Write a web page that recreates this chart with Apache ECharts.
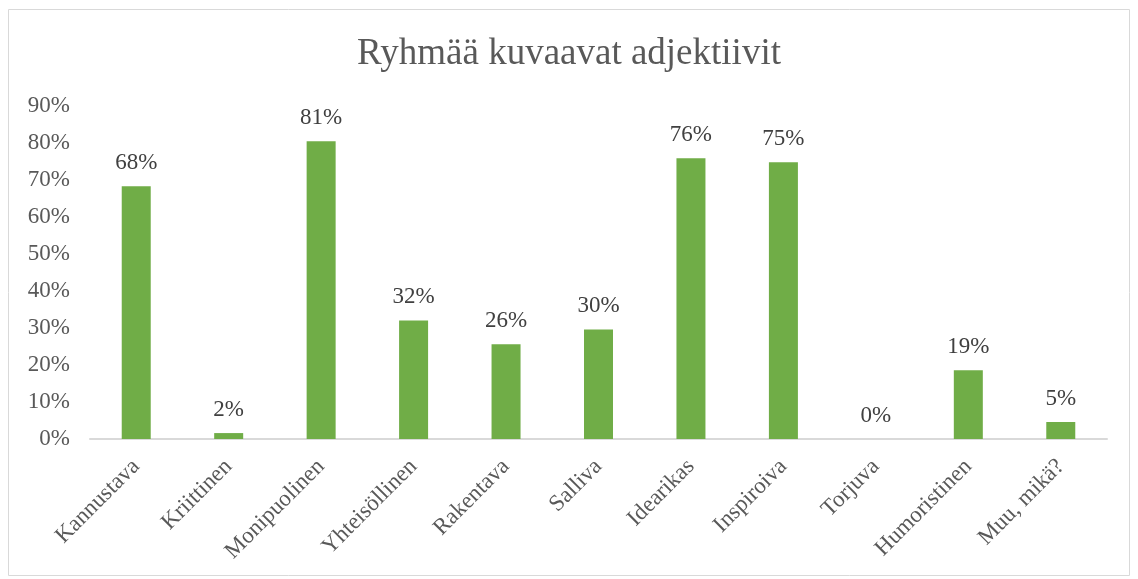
<!DOCTYPE html>
<html>
<head>
<meta charset="utf-8">
<script src="https://cdn.jsdelivr.net/npm/echarts@6/dist/echarts.min.js"></script>
<style>html,body{margin:0;padding:0;background:#fff;}#c{width:1138px;height:579px;}</style>
</head>
<body>
<div id="c"></div>
<script>
const categories = ['Kannustava','Kriittinen','Monipuolinen','Yhteisöllinen','Rakentava','Salliva','Idearikas','Inspiroiva','Torjuva','Humoristinen','Muu, mikä?'];
const values = [68.3, 1.6, 80.5, 32.0, 25.6, 29.6, 75.9, 74.8, 0, 18.6, 4.6];
const titleText = 'Ryhmää kuvaavat adjektiivit';
const serif = '"Liberation Serif", "Times New Roman", serif';

const chart = echarts.init(document.getElementById('c'));
chart.setOption({
  animation: false,
  graphic: [{
    type: 'rect', shape: {x: 8.5, y: 9.5, width: 1121, height: 566},
    style: {fill: 'none', stroke: '#d9d9d9', lineWidth: 1}, z: -1
  }],
  title: {
    text: titleText, left: 'center', top: 31,
    textStyle: {fontFamily: serif, fontSize: 37, fontWeight: 'normal', color: '#595959'}
  },
  grid: {left: 90, right: 31, top: 106, bottom: 140, containLabel: false},
  xAxis: {
    type: 'category', data: categories,
    axisLine: {lineStyle: {color: '#d9d9d9', width: 2}},
    axisTick: {show: false},
    axisLabel: {rotate: 45, interval: 0, margin: 24, fontFamily: serif, fontSize: 23, color: '#595959'}
  },
  yAxis: {
    type: 'value', min: 0, max: 90, interval: 10,
    splitLine: {show: false},
    axisLine: {show: false}, axisTick: {show: false},
    axisLabel: {formatter: '{value}%', margin: 20, fontFamily: serif, fontSize: 23, color: '#595959'}
  },
  series: [{
    type: 'bar', data: values, barWidth: 29,
    itemStyle: {color: '#70ad47'},
    label: {
      show: true, position: 'top', distance: 12,
      formatter: p => Math.round(p.value) + '%',
      fontFamily: serif, fontSize: 23, color: '#404040'
    }
  }]
});
</script>
</body>
</html>
